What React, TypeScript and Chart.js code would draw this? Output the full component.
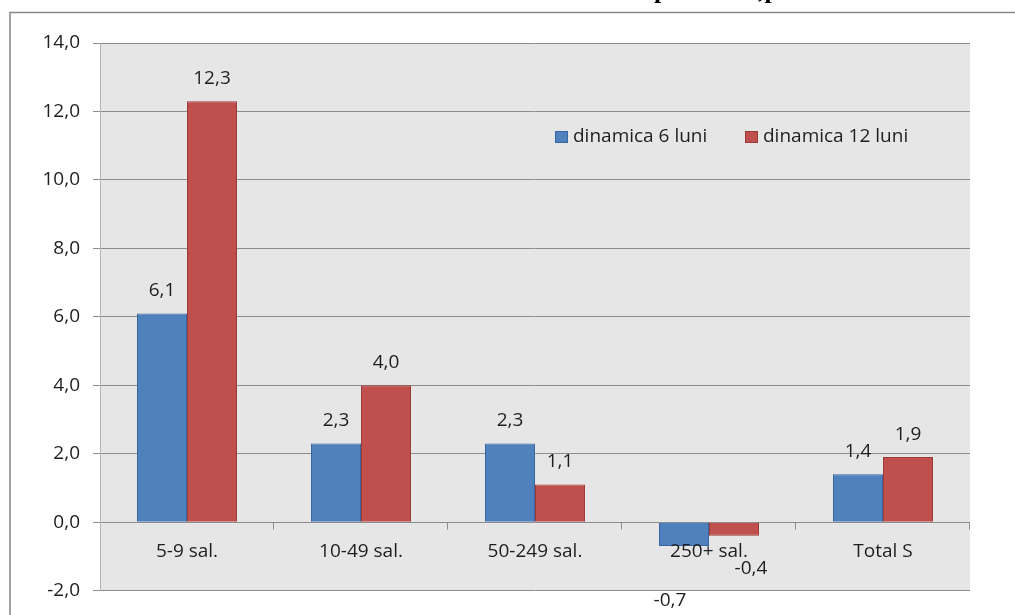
import { useEffect, useRef } from "react";
import { Chart, registerables } from "chart.js";

Chart.register(...registerables);

const categories = ["5-9 sal.", "10-49 sal.", "50-249 sal.", "250+ sal.", "Total S"];
const seriesNames = ["dinamica 6 luni", "dinamica 12 luni"];
const values6 = [6.1, 2.3, 2.3, -0.7, 1.4];
const values12 = [12.3, 4.0, 1.1, -0.4, 1.9];
const yMin = -2;
const yMax = 14;
const yStep = 2;
const titleFragments = ["p", ",p"];

const FONT = '"Open Sans", sans-serif';
const TEXT = "#1e1e1e";
const GRID = "#8c8c8c";
const fmt = (v: number) => v.toFixed(1).replace(".", ",");

const decorPlugin = {
  id: "decor",
  beforeDraw(chart: any) {
    const { ctx, chartArea } = chart;
    ctx.save();
    // plot background
    ctx.fillStyle = "#e6e6e6";
    ctx.fillRect(chartArea.left, chartArea.top, chartArea.right - chartArea.left, chartArea.bottom - chartArea.top);
    // outer frame
    ctx.strokeStyle = "#868686";
    ctx.lineWidth = 1.5;
    ctx.beginPath();
    ctx.moveTo(1015, 12.5);
    ctx.lineTo(10, 12.5);
    ctx.lineTo(10, 615);
    ctx.stroke();
    // cut-off title fragments
    ctx.fillStyle = "#000";
    ctx.font = 'bold 26px "Liberation Serif", serif';
    ctx.textBaseline = "alphabetic";
    ctx.textAlign = "left";
    ctx.fillText(titleFragments[0], 654, -2);
    ctx.fillText(titleFragments[1], 758, -2);
    ctx.restore();
  },
  afterDraw(chart: any) {
    const { ctx, chartArea } = chart;
    const xs = chart.scales.x;
    const ys = chart.scales.y;
    const zeroY = Math.round(ys.getPixelForValue(0)) + 0.5;
    ctx.save();
    // category boundary tick marks on the zero line
    const n = chart.data.labels.length;
    const w = (xs.right - xs.left) / n;
    ctx.strokeStyle = GRID;
    ctx.lineWidth = 1;
    ctx.beginPath();
    for (let i = 1; i <= n; i++) {
      const x = Math.round(xs.left + i * w) - 0.5;
      ctx.moveTo(x, zeroY);
      ctx.lineTo(x, zeroY + 7);
    }
    ctx.stroke();
    // category labels below zero line
    ctx.font = `19px ${FONT}`;
    ctx.fillStyle = TEXT;
    ctx.textAlign = "center";
    ctx.textBaseline = "middle";
    chart.data.labels.forEach((lab: string, i: number) => {
      ctx.fillText(lab, xs.getPixelForValue(i), zeroY + 29);
    });
    // data labels
    const negNudge = [
      { dx: -14, dy: 54 },
      { dx: 17, dy: 33 },
    ];
    chart.data.datasets.forEach((ds: any, di: number) => {
      const meta = chart.getDatasetMeta(di);
      meta.data.forEach((el: any, i: number) => {
        const v = ds.data[i];
        if (v >= 0) {
          ctx.fillText(fmt(v), el.x, el.y - 23);
        } else {
          ctx.fillText(fmt(v), el.x + negNudge[di].dx, el.y + negNudge[di].dy);
        }
      });
    });
    // legend
    const lx = chartArea.left + 455;
    const ly = chartArea.top + 94;
    const offsets = [0, 190];
    ctx.textAlign = "left";
    chart.data.datasets.forEach((ds: any, di: number) => {
      const x = lx + offsets[di];
      ctx.fillStyle = ds.backgroundColor;
      ctx.fillRect(x, ly - 6, 13, 12);
      ctx.strokeStyle = ds.borderColor;
      ctx.lineWidth = 1;
      ctx.strokeRect(x + 0.5, ly - 5.5, 12, 11);
      ctx.fillStyle = TEXT;
      ctx.fillText(ds.label, x + 18, ly);
    });
    ctx.restore();
  },
};

export default function App() {
  const ref = useRef<HTMLCanvasElement>(null);
  useEffect(() => {
    if (!ref.current) return;
    const chart = new Chart(ref.current, {
      type: "bar",
      data: {
        labels: categories,
        datasets: [
          {
            label: seriesNames[0],
            data: values6,
            backgroundColor: "#4f81bd",
            borderColor: "#3a65a0",
            borderWidth: 1,
          },
          {
            label: seriesNames[1],
            data: values12,
            backgroundColor: "#c0504d",
            borderColor: "#9c3a37",
            borderWidth: 1,
          },
        ],
      },
      options: {
        responsive: false,
        animation: false,
        layout: { padding: { left: 0, top: 43, right: 45, bottom: 24 } },
        datasets: { bar: { categoryPercentage: 100 / 174, barPercentage: 1 } },
        plugins: {
          legend: { display: false },
          tooltip: { enabled: false },
          title: { display: false },
        },
        scales: {
          x: {
            type: "category",
            display: false,
          },
          y: {
            min: yMin,
            max: yMax,
            ticks: {
              stepSize: yStep,
              callback: (v: any) => fmt(Number(v)),
              padding: 13,
              font: { family: FONT, size: 19 },
              color: TEXT,
            },
            grid: { color: GRID, tickLength: 7, drawTicks: true },
            border: { display: true, color: "#b4b4b4" },
            afterFit: (s: any) => {
              s.width = 100;
            },
          },
        },
      },
      plugins: [decorPlugin],
    } as any);
    return () => chart.destroy();
  }, []);
  return (
    <div style={{ position: "fixed", left: 0, top: 0, width: 1015, height: 615, background: "#fff" }}>
      <canvas ref={ref} width={1015} height={615} style={{ display: "block" }} />
    </div>
  );
}
